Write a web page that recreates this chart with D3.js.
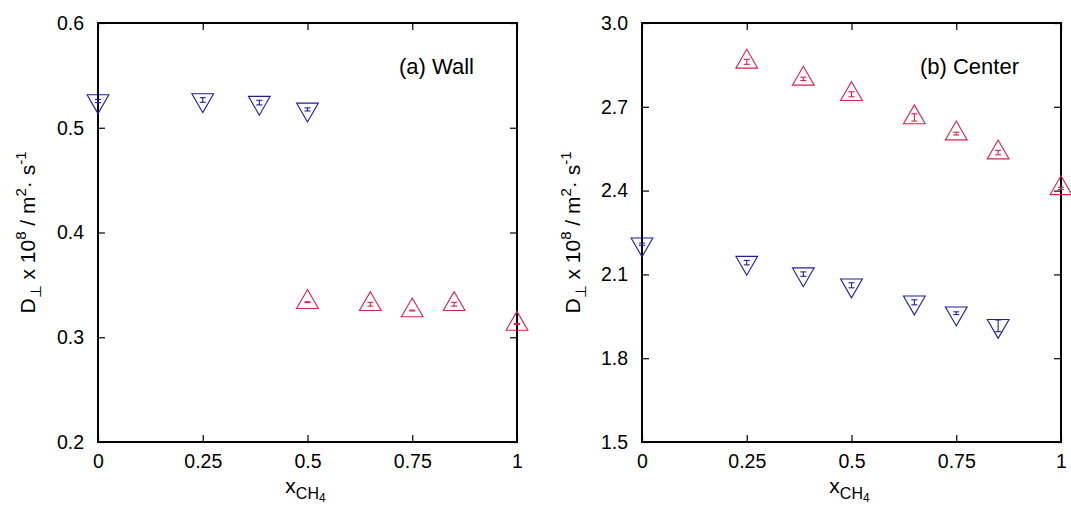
<!DOCTYPE html>
<html>
<head>
<meta charset="utf-8">
<script src="https://cdn.jsdelivr.net/npm/d3@7"></script>
<style>
  html, body { margin: 0; padding: 0; background: #fff; }
  svg { display: block; font-family: "Liberation Sans", Arial, Helvetica, sans-serif; }
</style>
</head>
<body>
<svg id="chart" width="1071" height="508"></svg>
<script>
// Mole fraction of CH4 at each measured composition
const xTicks = [0, 0.25, 0.5, 0.75, 1];
const xTickLabels = ["0", "0.25", "0.5", "0.75", "1"];

// (a) Wall: diffusion coefficients, D x 1e8 (m^2/s)
const wallBlueX   = [0, 0.25, 0.385, 0.5];
const wallBlueY   = [0.5255, 0.5265, 0.524, 0.5175];
const wallBlueErr = [0.0015, 0.0022, 0.0022, 0.0015];
const wallRedX    = [0.5, 0.65, 0.75, 0.85, 1];
const wallRedY    = [0.3335, 0.3315, 0.3255, 0.3315, 0.3127];
const wallRedErr  = [0.0004, 0.0018, 0.0004, 0.0018, 0.0005];
const wallYTicks  = [0.2, 0.3, 0.4, 0.5, 0.6];
const wallYTickLabels = ["0.2", "0.3", "0.4", "0.5", "0.6"];

// (b) Center
const centerBlueX   = [0, 0.25, 0.385, 0.5, 0.65, 0.75, 0.85];
const centerBlueY   = [2.208, 2.142, 2.101, 2.061, 2.0, 1.961, 1.916];
const centerBlueErr = [0.004, 0.008, 0.008, 0.009, 0.009, 0.005, 0.021];
const centerRedX    = [0.25, 0.385, 0.5, 0.65, 0.75, 0.85, 1];
const centerRedY    = [2.861, 2.800, 2.745, 2.662, 2.604, 2.536, 2.408];
const centerRedErr  = [0.009, 0.006, 0.009, 0.013, 0.005, 0.008, 0.004];
const centerYTicks  = [1.5, 1.8, 2.1, 2.4, 2.7, 3.0];
const centerYTickLabels = ["1.5", "1.8", "2.1", "2.4", "2.7", "3.0"];

const BLUE = "#1f1f9e";
const RED = "#de1f4a";

const svg = d3.select("#chart");

function panel(opts) {
  const x = d3.scaleLinear().domain([0, 1]).range([opts.left, opts.right]);
  const y = d3.scaleLinear().domain(opts.yDomain).range([opts.bottom, opts.top]);
  const g = svg.append("g");

  // axes with inward ticks on all four sides
  const tick = 7;
  const axB = g.append("g").attr("transform", `translate(0,${opts.bottom})`)
    .call(d3.axisBottom(x).tickValues(xTicks).tickSizeInner(-tick).tickSizeOuter(0)
      .tickPadding(12).tickFormat((d, i) => xTickLabels[i]));
  const axT = g.append("g").attr("transform", `translate(0,${opts.top})`)
    .call(d3.axisTop(x).tickValues(xTicks).tickSizeInner(-tick).tickSizeOuter(0).tickFormat(""));
  const axL = g.append("g").attr("transform", `translate(${opts.left},0)`)
    .call(d3.axisLeft(y).tickValues(opts.yTicks).tickSizeInner(-tick).tickSizeOuter(0)
      .tickPadding(14).tickFormat((d, i) => opts.yTickLabels[i]));
  const axR = g.append("g").attr("transform", `translate(${opts.right},0)`)
    .call(d3.axisRight(y).tickValues(opts.yTicks).tickSizeInner(-tick).tickSizeOuter(0).tickFormat(""));
  [axB, axT, axL, axR].forEach(a => {
    a.attr("font-size", 19.5).attr("font-family", "'Liberation Sans', Arial, sans-serif");
    a.select(".domain").remove();
    a.selectAll(".tick line").attr("stroke", "#000").attr("stroke-width", 1.2);
    a.selectAll(".tick text").attr("fill", "#000");
  });

  // frame
  g.append("rect")
    .attr("x", opts.left).attr("y", opts.top)
    .attr("width", opts.right - opts.left).attr("height", opts.bottom - opts.top)
    .attr("fill", "none").attr("stroke", "#000").attr("stroke-width", 2);

  // series: markers with error bars
  function series(xs, ys, es, color, down) {
    const data = xs.map((d, i) => ({ x: d, y: ys[i], e: es[i] }));
    const s = g.append("g");
    const tri = d3.symbol().type(d3.symbolTriangle).size(205);
    s.selectAll("path.m").data(data).join("path").attr("class", "m")
      .attr("d", tri)
      .attr("transform", d => `translate(${x(d.x)},${y(d.y)})${down ? " rotate(180)" : ""}`)
      .attr("fill", "none").attr("stroke", color).attr("stroke-width", 1.1);
    const cap = 3;
    const eb = s.selectAll("g.eb").data(data).join("g").attr("class", "eb")
      .attr("stroke", color).attr("stroke-width", 1.1);
    eb.append("line")
      .attr("x1", d => x(d.x)).attr("x2", d => x(d.x))
      .attr("y1", d => y(d.y - d.e)).attr("y2", d => y(d.y + d.e));
    eb.append("line")
      .attr("x1", d => x(d.x) - cap).attr("x2", d => x(d.x) + cap)
      .attr("y1", d => y(d.y - d.e)).attr("y2", d => y(d.y - d.e));
    eb.append("line")
      .attr("x1", d => x(d.x) - cap).attr("x2", d => x(d.x) + cap)
      .attr("y1", d => y(d.y + d.e)).attr("y2", d => y(d.y + d.e));
  }
  opts.series.forEach(sr => series(sr[0], sr[1], sr[2], sr[3], sr[4]));

  // panel label
  g.append("text").attr("x", opts.labelX).attr("y", 74)
    .attr("font-size", 22).attr("text-anchor", "end").text(opts.label);

  // x axis title: x_CH4
  const xt = g.append("text").attr("x", (opts.left + opts.right) / 2 - 2).attr("y", 493)
    .attr("font-size", 21).attr("text-anchor", "middle");
  xt.append("tspan").text("x");
  xt.append("tspan").attr("dy", 6).attr("font-size", 16).text("CH");
  xt.append("tspan").attr("dy", 3).attr("font-size", 12).text("4");

  // y axis title
  const yt = g.append("text")
    .attr("transform", `translate(${opts.titleX},${(opts.top + opts.bottom) / 2}) rotate(-90)`)
    .attr("font-size", 21).attr("text-anchor", "middle");
  yt.append("tspan").text("D");
  yt.append("tspan").attr("dy", 6).attr("font-size", 15).text("\u22A5");
  yt.append("tspan").attr("dy", -6).text(" x 10");
  yt.append("tspan").attr("dy", -9).attr("font-size", 15).text("8");
  yt.append("tspan").attr("dy", 9).text(" / m");
  yt.append("tspan").attr("dy", -9).attr("font-size", 15).text("2");
  yt.append("tspan").attr("dy", 9).text("\u00B7 s");
  yt.append("tspan").attr("dy", -9).attr("font-size", 15).text("-1");
}

panel({
  left: 98, right: 517, top: 23, bottom: 442,
  yDomain: [0.2, 0.6], yTicks: wallYTicks, yTickLabels: wallYTickLabels,
  label: "(a) Wall", labelX: 474, titleX: 35,
  series: [
    [wallBlueX, wallBlueY, wallBlueErr, BLUE, true],
    [wallRedX, wallRedY, wallRedErr, RED, false]
  ]
});

panel({
  left: 642, right: 1061, top: 23, bottom: 442,
  yDomain: [1.5, 3.0], yTicks: centerYTicks, yTickLabels: centerYTickLabels,
  label: "(b) Center", labelX: 1019, titleX: 580,
  series: [
    [centerBlueX, centerBlueY, centerBlueErr, BLUE, true],
    [centerRedX, centerRedY, centerRedErr, RED, false]
  ]
});
</script>
</body>
</html>
